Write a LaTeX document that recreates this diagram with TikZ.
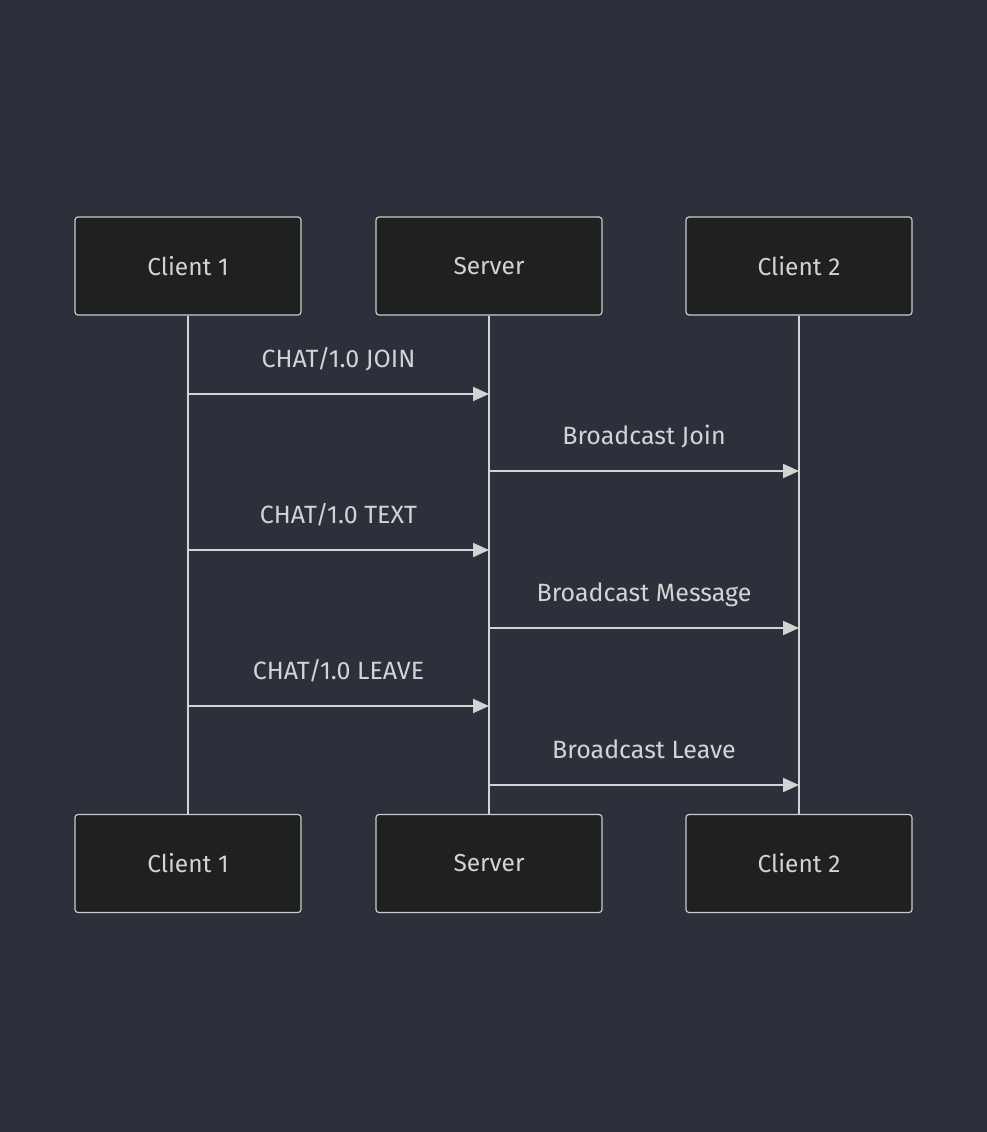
\documentclass[tikz,border=0pt]{standalone}
\usepackage{fontspec}
\setmainfont{Fira Sans}
\usetikzlibrary{arrows.meta,positioning}
\definecolor{bgDark}{HTML}{2B303B}
\definecolor{actorFill}{HTML}{1F2020}
\definecolor{actorLine}{HTML}{CCCCCC}
\definecolor{msgLine}{HTML}{D3D3D3}
\definecolor{msgText}{HTML}{D3D3D3}

\begin{document}
\begin{tikzpicture}[x=1pt,y=-1pt,
    actor/.style={draw=actorLine,fill=actorFill,line width=1.2pt,rounded corners=3pt,
      minimum width=226pt,minimum height=98pt,text=msgText,font=\fontsize{24.5}{28}\selectfont},
    lifeline/.style={draw=msgLine,line width=2.2pt},
    msg/.style={draw=msgLine,line width=2pt,-{Triangle[length=16pt,width=14pt,fill=msgLine]}},
    msglabel/.style={text=msgText,inner sep=0pt,font=\fontsize{25}{28}\selectfont}]

      % background, fixes the size
      \fill[bgDark] (0,0) rectangle (987,1132);

      \def\actors{c1/188/{Client 1}, srv/489/{Server}, c2/799/{Client 2}}
      \def\messages{
        c1/srv/394/{CHAT/1.0 JOIN},
        srv/c2/471/{Broadcast Join},
        c1/srv/550/{CHAT/1.0 TEXT},
        srv/c2/628/{Broadcast Message},
        c1/srv/706/{CHAT/1.0 LEAVE},
        srv/c2/785/{Broadcast Leave}
      }

      % draw the actor boxes
      \foreach \id/\x/\name in \actors
      {
        \node[actor] (\id-top) at (\x,266) {\name};
        \node[actor] (\id-bot) at (\x,863.5) {\name};
      }

      % draw the lifelines
      \foreach \id/\x/\name in \actors
        \draw[lifeline] (\id-top) -- (\id-bot);

      % draw the messages and their labels
      \foreach \from/\to/\y/\txt [count=\i] in \messages
      {
        \coordinate (m\i-s) at (\from-top |- 0,\y);
        \coordinate (m\i-e) at (\to-top |- 0,\y);
        \draw[msg] (m\i-s) -- (m\i-e);
        \path (m\i-s) -- node[msglabel,anchor=base,yshift=27pt] (l\i) {\txt} (m\i-e);
      }

\end{tikzpicture}
\end{document}
